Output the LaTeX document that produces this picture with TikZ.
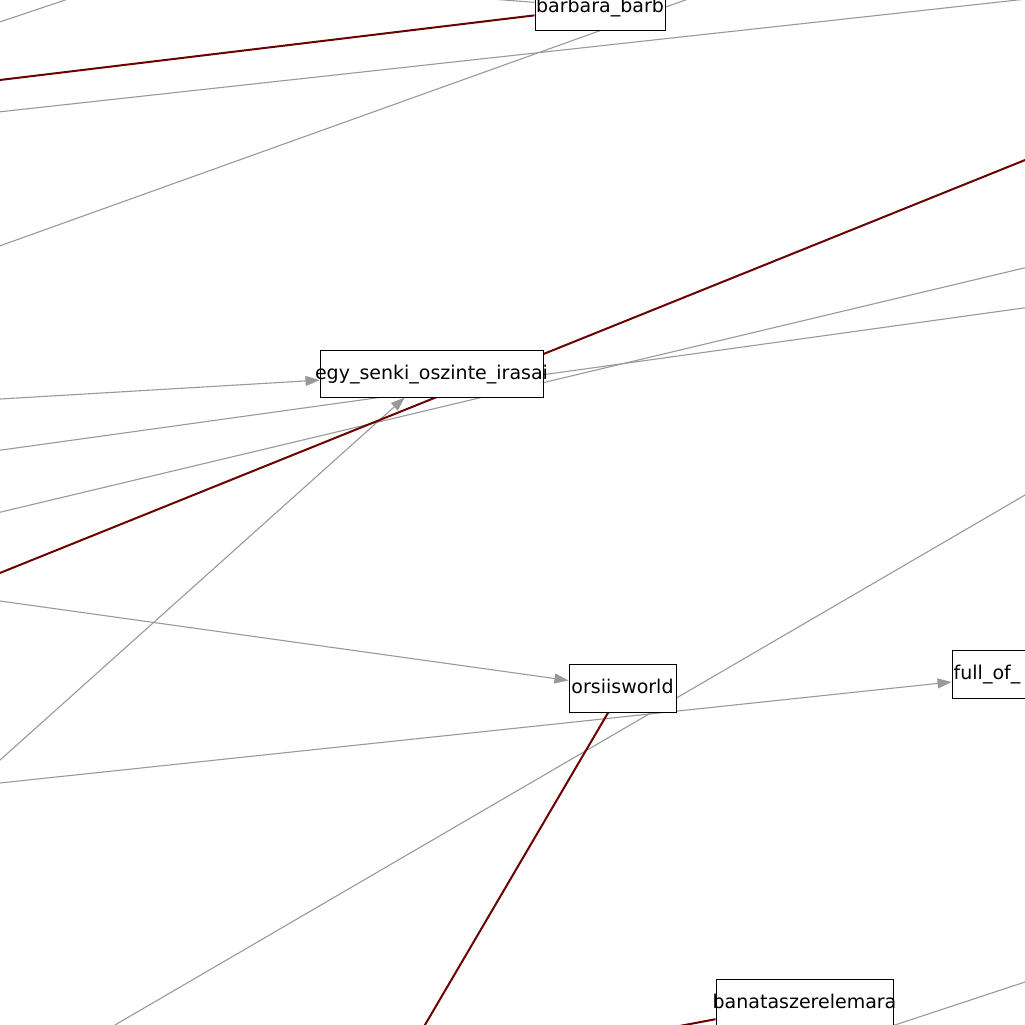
\documentclass[tikz,border=0pt]{standalone}
\usepackage{fontspec}
\setmainfont{DejaVu Sans}
\usetikzlibrary{arrows.meta,backgrounds}

\definecolor{edgegray}{HTML}{999999}
\definecolor{edgered}{HTML}{6B0000}

\tikzset{
  box/.style={draw=black, line width=1pt, fill=white, rectangle, inner sep=0pt,
              minimum height=47pt},
  lbl/.style={inner sep=0pt, text height=14pt, text depth=3pt,
              font=\fontsize{19}{22}\selectfont},
  link/.style={draw=edgegray, line width=1.1pt},
  strong/.style={draw=edgered, line width=2pt},
  arrowed/.style={-{Triangle[length=14pt,width=10pt,fill=edgegray]}},
}

\begin{document}
\begin{tikzpicture}[x=1pt, y=-1pt]
\useasboundingbox (0,0) rectangle (1025,1025);

% nodes
\node[box, minimum width=130pt, label={[lbl]center:barbara\_barb}] (barb) at (600,7.5) {};
\node[box, minimum width=223pt, label={[lbl]center:egy\_senki\_oszinte\_irasai}] (egy) at (431.5,373.5) {};
\node[box, minimum width=107pt, minimum height=48pt, label={[lbl]center:orsiisworld}] (orsi) at (622.5,688) {};
\node[box, minimum width=150pt, minimum height=48pt] (full) at (1027,674) {};
\node[lbl, anchor=west] (fulltext) at ([xshift=2pt]full.west) {full\_of\_};
\node[box, minimum width=177pt, label={[lbl]center:banataszerelemara}] (banata) at (804.5,1002.5) {};

% end points of connectors leaving the visible area
\coordinate (a1) at (-30,32);     \coordinate (b1) at (95,-10);
\coordinate (a2) at (300,-16);
\coordinate (a3) at (-20,114);    \coordinate (b3) at (1045,-3);
\coordinate (a4) at (-20,253);    \coordinate (b4) at (705,-7);
\coordinate (a5) at (-20,517);    \coordinate (b5) at (1045,263);
\coordinate (a6) at (-20,453);    \coordinate (b6) at (1045,305);
\coordinate (a7) at (-20,400.2);
\coordinate (a8) at (-20,778);
\coordinate (a9) at (-20,598.2);
\coordinate (a10) at (-20,785.1);
\coordinate (a11) at (95,1036.6); \coordinate (b11) at (1045,483.4);
\coordinate (a12) at (860,1036.5);\coordinate (b12) at (1045,975.4);
\coordinate (r1) at (-20,82.4);
\coordinate (r2a) at (-20,581);   \coordinate (r2b) at (1045,152);
\coordinate (r3) at (412,1047);
\coordinate (r4) at (645,1032.5);

\begin{pgfonlayer}{background}
  % grey connectors
  \draw[link] (a1) -- (b1);
  \draw[link] (a2) -- (barb);
  \draw[link] (a3) -- (b3);
  \draw[link] (a4) -- (b4);
  \draw[link] (a5) -- (b5);
  \draw[link] (a6) -- (b6);
  \draw[link] (a11) -- (b11);
  \draw[link] (a12) -- (b12);
  \draw[link, arrowed] (a7) -- (egy);
  \draw[link, arrowed] (a8) -- (egy);
  \draw[link, arrowed] (a9) -- (orsi);
  \draw[link, arrowed] (a10) -- (full);
  % dark red connectors
  \draw[strong] (r1) -- (barb);
  \draw[strong] (r2a) -- (r2b);
  \draw[strong] (orsi) -- (r3);
  \draw[strong] (r4) -- (banata);
\end{pgfonlayer}
\end{tikzpicture}
\end{document}
